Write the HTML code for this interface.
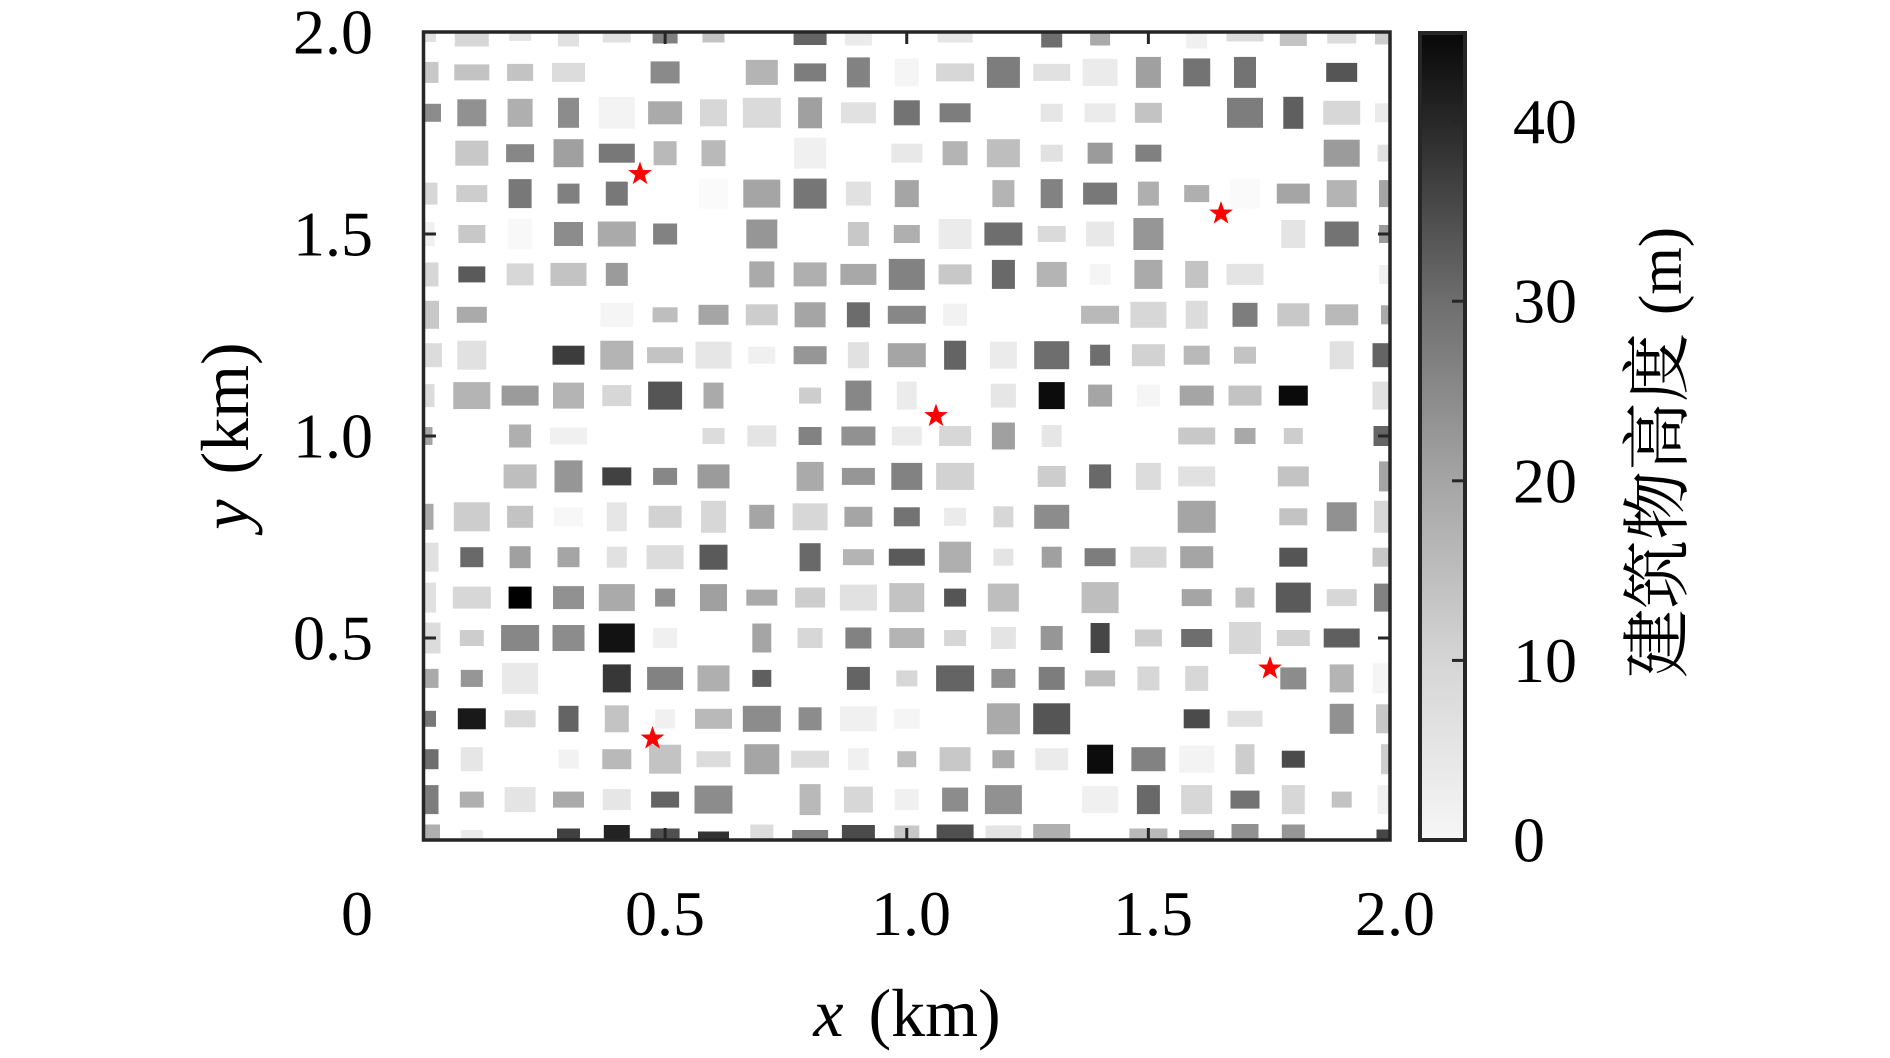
<!DOCTYPE html>
<html><head><meta charset="utf-8">
<style>
html,body{margin:0;padding:0;background:#fff;}
svg{display:block;}
text{font-family:"Liberation Serif","Noto Serif CJK SC",serif;fill:#000;}
</style></head><body>
<svg id="s" width="1890" height="1058" viewBox="0 0 1890 1058" xmlns="http://www.w3.org/2000/svg">
<defs>
<clipPath id="c"><rect x="423.5" y="32" width="966.5" height="808"/></clipPath>
<linearGradient id="g" x1="0" y1="1" x2="0" y2="0">
<stop offset="0" stop-color="rgb(246,246,246)"/>
<stop offset="0.222" stop-color="rgb(213,213,213)"/>
<stop offset="0.444" stop-color="rgb(165,165,165)"/>
<stop offset="0.667" stop-color="rgb(110,110,110)"/>
<stop offset="0.889" stop-color="rgb(40,40,40)"/>
<stop offset="1" stop-color="rgb(8,8,8)"/>
</linearGradient>
</defs>
<rect x="0" y="0" width="1890" height="1058" fill="#fff"/>
<g id="b" clip-path="url(#c)"></g>
<g id="st"></g>
<g id="tk" stroke="#262626" stroke-width="3"></g>
<rect x="423.5" y="32" width="966.5" height="808" fill="none" stroke="#262626" stroke-width="3.5"/>

<!-- colorbar -->
<rect x="1420" y="33" width="45" height="807" fill="url(#g)" stroke="#262626" stroke-width="4"/>
<g stroke="#262626" stroke-width="3">
<line x1="1452" y1="660.4" x2="1465" y2="660.4"/>
<line x1="1452" y1="480.8" x2="1465" y2="480.8"/>
<line x1="1452" y1="301.2" x2="1465" y2="301.2"/>
<line x1="1452" y1="121.6" x2="1465" y2="121.6"/>
</g>
<g font-size="64">
<text x="1513" y="861.5">0</text>
<text x="1513" y="682">10</text>
<text x="1513" y="502.3">20</text>
<text x="1513" y="322.7">30</text>
<text x="1513" y="143.1">40</text>
</g>
<g transform="translate(1681,678) rotate(-90)">
<text x="0" y="0" font-size="69" font-family="'Liberation Serif','Noto Serif CJK SC',serif">建筑物高度<tspan dx="18" font-size="61">(m)</tspan></text>
</g>

<!-- y tick labels -->
<g font-size="64" text-anchor="end">
<text x="373" y="53.5">2.0</text>
<text x="373" y="255.5">1.5</text>
<text x="373" y="457.5">1.0</text>
<text x="373" y="659.5">0.5</text>
<text x="373" y="935">0</text>
</g>
<!-- x tick labels -->
<g font-size="64" text-anchor="middle">
<text x="665" y="935">0.5</text>
<text x="911" y="935">1.0</text>
<text x="1153" y="935">1.5</text>
<text x="1395" y="935">2.0</text>
</g>
<text x="907" y="1036" font-size="68" word-spacing="8" text-anchor="middle"><tspan font-style="italic">x</tspan> (km)</text>
<g transform="translate(248,436) rotate(-90)">
<text x="0" y="0" font-size="68" word-spacing="8" text-anchor="middle"><tspan font-style="italic">y</tspan> (km)</text>
</g>
</svg>
<script>
var D=[
[[25,20,225],[34,29,215],[22,18,230],[21,29,225],[28,21,225],[25,23,128],[22,21,195],0,[33,26,100],[27,27,235],0,[35,21,230],0,[21,31,110],[20,27,170],0,[21,33,240],[37,19,220],[27,28,195],[29,23,220],[30,25,205]],
[[30,21,200],[35,16,195],[26,17,195],[33,19,220],0,[29,22,138],0,[32,25,180],[32,18,125],[23,30,130],[24,28,245],[38,18,215],[33,31,125],[37,17,225],[35,27,235],[25,31,160],[27,28,115],[22,31,115],0,[31,19,85],0],
[[35,18,140],[29,27,145],[25,28,175],[21,30,140],[36,32,243],[34,23,170],[27,27,215],[38,30,218],[24,31,160],[35,21,225],[26,25,115],[31,19,125],0,[22,18,230],[31,19,235],[27,20,195],0,[36,30,125],[20,32,95],[37,24,215],[30,19,235]],
[0,[33,25,200],[28,18,135],[30,28,160],[36,19,120],[23,24,185],[24,26,185],0,[32,31,240],0,[31,19,232],[25,24,180],[33,28,190],[22,17,225],[25,21,155],[26,17,128],0,0,0,[36,27,155],[25,17,225]],
[[28,22,215],[31,17,205],[23,29,120],[22,20,128],[22,24,120],0,[29,30,250],[37,28,165],[33,30,118],[25,24,225],[24,27,165],0,[22,27,180],[22,29,130],[34,22,120],[21,24,175],[25,17,175],[30,30,250],[33,20,165],[30,27,180],[22,27,165]],
[[22,24,240],[27,18,200],[24,31,248],[29,24,140],[38,25,170],[24,21,130],0,[31,29,150],0,[21,24,200],[26,18,175],[33,30,235],[38,23,110],[28,16,218],[28,25,232],[30,32,150],0,0,[24,28,228],[34,25,115],[22,18,155]],
[[30,24,215],[27,16,90],[27,22,215],[36,23,195],[22,23,155],0,0,[25,26,170],[33,24,175],[36,21,168],[36,31,130],[33,20,200],[23,29,105],[30,25,180],[21,21,245],[28,29,170],[23,27,195],[37,21,228],0,0,[22,19,240]],
[[31,28,200],[30,16,170],0,0,[33,24,245],[25,15,190],[30,20,165],[32,21,205],[31,25,165],[23,25,108],[38,18,135],[24,22,242],0,0,[38,18,185],[36,26,215],[22,28,220],[25,24,125],[32,23,200],[33,21,185],[18,19,170]],
[[37,24,220],[29,29,225],0,[32,19,60],[33,29,180],[36,16,195],[36,27,230],[27,17,240],[33,18,150],[21,26,225],[38,24,165],[22,29,100],[27,27,235],[35,28,110],[20,21,110],[33,22,210],[26,19,185],[22,17,195],0,[24,28,225],[35,24,100]],
[[22,23,220],[37,27,180],[37,20,155],[31,26,180],[29,21,215],[34,28,85],[20,26,170],0,[22,16,205],[26,30,135],[20,28,235],0,[25,24,230],[26,27,12],[24,22,165],[23,22,245],[34,20,165],[33,20,195],[29,20,10],0,[35,28,225]],
[[18,18,165],0,[22,23,175],[37,17,240],0,0,[22,16,220],[29,21,228],[23,18,130],[34,19,145],[30,19,235],[32,20,215],[23,27,160],[20,22,230],0,0,[37,17,200],[21,16,168],[19,16,205],0,[33,20,100]],
[0,0,[33,24,190],[28,32,150],[29,18,65],[24,17,135],[32,24,155],0,[27,29,170],[33,17,150],[31,27,130],[38,27,210],0,[28,21,205],[22,24,105],[25,27,220],[37,20,225],0,[31,20,195],0,[22,30,165]],
[[20,26,170],[36,29,205],[26,22,195],[29,19,247],[20,29,230],[33,22,210],[25,32,215],[25,24,165],[35,27,215],[28,20,165],[26,19,115],[22,18,235],[20,21,215],[35,24,140],0,0,[38,32,165],0,[28,17,195],[30,29,145],[32,32,215]],
[[30,29,225],[23,20,105],[21,22,160],[22,20,165],[20,21,225],[37,24,220],[28,25,90],0,[21,28,105],[31,16,180],[36,17,90],[32,31,175],[20,17,228],[20,21,160],[31,18,125],[36,21,215],[33,22,165],0,[28,19,85],0,[35,19,200]],
[[25,30,225],[38,22,215],[23,22,0],[31,23,145],[36,27,170],[20,18,145],[27,27,160],[31,16,170],[30,20,205],[37,26,225],[35,29,195],[22,18,85],[31,28,190],0,[37,31,190],0,[30,17,165],[19,20,195],[35,30,90],[30,17,215],[32,28,130]],
[[34,31,220],[24,16,205],[38,26,135],[32,26,140],[36,29,18],[24,20,240],0,[19,29,165],[25,20,215],[26,21,130],[35,20,180],[22,16,215],[25,22,228],[22,24,150],[19,30,70],[27,17,205],[31,18,110],[32,32,215],[33,16,210],[36,19,95],0],
[[30,19,170],[22,17,150],[36,31,233],0,[28,28,55],[36,23,130],[32,26,175],[19,17,95],0,[23,23,100],[21,16,215],[38,26,100],[24,19,145],[26,23,125],[30,16,190],[22,24,215],[23,25,215],0,[26,22,140],[24,28,180],[35,30,245]],
[[25,16,120],[28,21,25],[31,17,220],[20,26,100],[24,27,195],[20,19,240],[37,20,185],[38,26,140],[23,23,140],[37,25,240],[26,20,245],0,[33,31,170],[37,31,85],0,0,[26,19,75],[35,16,225],0,[24,30,145],[28,29,200]],
[[30,20,110],[22,24,230],0,[20,19,242],[29,20,185],[32,29,195],[34,16,220],[35,30,165],[38,17,220],[21,22,240],[19,16,190],[31,24,200],[22,18,170],[33,22,235],[26,29,12],[34,24,130],[35,27,243],[19,30,205],[23,17,75],0,[18,30,205]],
[[30,29,125],[24,16,175],[31,25,228],[31,16,170],[28,21,230],[28,16,100],[38,28,140],0,[21,31,185],[29,26,215],[24,21,240],[26,24,140],[37,29,145],0,[36,27,240],[23,29,105],[31,29,215],[29,18,115],[23,29,215],[20,16,195],[25,29,240]],
[[33,31,175],[22,20,235],0,[23,23,65],[26,30,35],[29,23,80],[31,17,50],[23,31,220],[36,20,130],[33,30,75],[25,29,200],[37,31,80],[36,29,228],[37,32,175],0,[38,23,185],[35,20,145],[27,32,145],[23,31,150],0,[27,21,70]]
];
var NS="http://www.w3.org/2000/svg";
var b=document.getElementById("b");
var X0=423.5,DX=48.325,Y0=32,DY=40.4;
for(var j=0;j<21;j++){for(var k=0;k<21;k++){var e=D[j][k];if(!e)continue;
var r=document.createElementNS(NS,"rect");
var cx=X0+k*DX,cy=Y0+j*DY;
r.setAttribute("x",(cx-e[0]/2).toFixed(1));r.setAttribute("y",(cy-e[1]/2).toFixed(1));
r.setAttribute("width",e[0]);r.setAttribute("height",e[1]);
r.setAttribute("fill","rgb("+e[2]+","+e[2]+","+e[2]+")");
b.appendChild(r);}}
var S=[[640,174],[1221,213.5],[936,416],[652.5,738.5],[1270,668.5]];
var st=document.getElementById("st");
S.forEach(function(p){var pts=[];for(var i=0;i<10;i++){var a=(-90+i*36)*Math.PI/180;var rr=(i%2)?5:12.5;pts.push((p[0]+rr*Math.cos(a)).toFixed(2)+","+(p[1]+rr*Math.sin(a)).toFixed(2));}
var pg=document.createElementNS(NS,"polygon");pg.setAttribute("points",pts.join(" "));pg.setAttribute("fill","#ff0000");st.appendChild(pg);});
var tk=document.getElementById("tk");
function L(x1,y1,x2,y2){var l=document.createElementNS(NS,"line");l.setAttribute("x1",x1);l.setAttribute("y1",y1);l.setAttribute("x2",x2);l.setAttribute("y2",y2);tk.appendChild(l);}
for(var i=1;i<4;i++){var x=X0+i*241.625;L(x,840,x,828);L(x,32,x,44);var y=Y0+i*202;L(423.5,y,436,y);L(1390,y,1378,y);}
</script>
</body></html>
